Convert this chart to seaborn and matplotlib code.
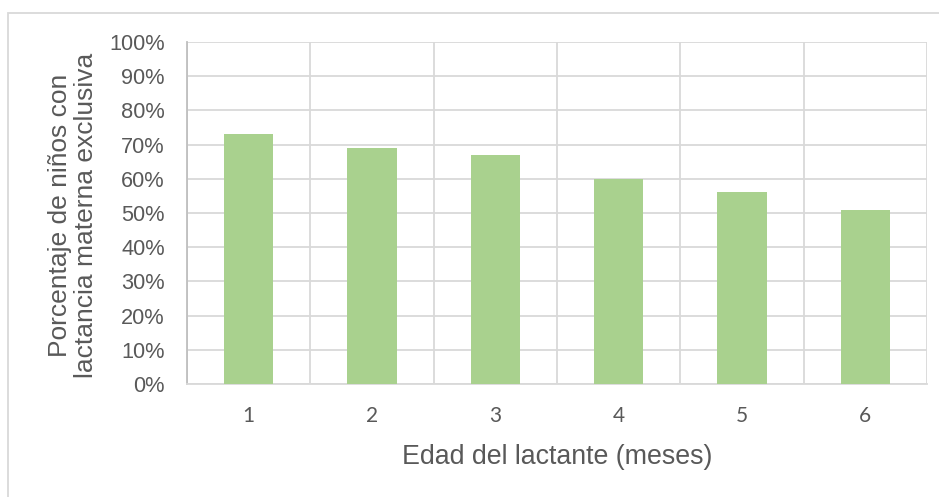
import matplotlib
matplotlib.use("Agg")
import matplotlib.pyplot as plt
from matplotlib.patches import Rectangle
from matplotlib.ticker import FixedLocator, PercentFormatter
import seaborn as sns
import pandas as pd

# Edad del lactante (meses) y porcentaje con lactancia materna exclusiva
meses = ["1", "2", "3", "4", "5", "6"]
porcentajes = [73, 69, 67, 60, 56, 51]
marcas_y = [0, 10, 20, 30, 40, 50, 60, 70, 80, 90, 100]

titulo_x = "Edad del lactante (meses)"
titulo_y = "Porcentaje de niños con\nlactancia materna exclusiva"

verde = "#a9d18e"
gris_texto = "#595959"
gris_rejilla = "#d9d9d9"

sns.set_theme(style="white")
plt.rcParams["font.family"] = ["Liberation Sans", "DejaVu Sans"]

W, H = 939, 497
fig = plt.figure(figsize=(W / 100, H / 100), dpi=100)
ax = fig.add_axes([187 / W, 1 - 384 / H, (927 - 187) / W, (384 - 42) / H])

df = pd.DataFrame({"mes": meses, "pct": porcentajes})
sns.barplot(data=df, x="mes", y="pct", ax=ax, color=verde, saturation=1,
            width=0.4, zorder=3, edgecolor="none")

ax.set_ylim(0, 100)
ax.set_xlim(-0.5, len(meses) - 0.5)
ax.yaxis.set_major_locator(FixedLocator(marcas_y))
ax.yaxis.set_major_formatter(PercentFormatter(decimals=0))

# separadores verticales entre categorías
ax.xaxis.set_minor_locator(FixedLocator([i + 0.5 for i in range(-1, len(meses))]))
ax.grid(axis="y", which="major", color=gris_rejilla, lw=1.3, zorder=0)
ax.grid(axis="x", which="minor", color=gris_rejilla, lw=1.3, zorder=0)
ax.grid(axis="x", which="major", visible=False)
ax.set_axisbelow(True)

for lado in ["top", "right"]:
    ax.spines[lado].set_visible(False)
ax.spines["left"].set_color("#bfbfbf")
ax.spines["left"].set_linewidth(1.3)
ax.spines["bottom"].set_color(gris_rejilla)
ax.spines["bottom"].set_linewidth(1.3)

ax.tick_params(axis="both", which="both", length=0)
ax.tick_params(axis="y", pad=16, labelsize=15.7, labelcolor=gris_texto)
ax.tick_params(axis="x", pad=16, labelsize=15, labelcolor=gris_texto)
for t in ax.get_xticklabels():
    t.set_family(["Lato", "DejaVu Sans"])

ax.set_xlabel("")
ax.set_ylabel("")
fig.text(557 / W, 1 - 457 / H, titulo_x, ha="center", va="center",
         fontsize=19.3, color=gris_texto)
fig.text(73 / W, 1 - 215 / H, titulo_y, ha="center", va="center",
         rotation=90, fontsize=19, color=gris_texto, multialignment="center",
         linespacing=1.1)

# marco exterior del gráfico
fig.patches.append(Rectangle((8 / W, -0.1), 1.2, (1 - 13 / H) + 0.1,
                             transform=fig.transFigure, fill=False,
                             edgecolor=gris_rejilla, lw=1.3))

fig.savefig("out.png", dpi=100, facecolor="white")
